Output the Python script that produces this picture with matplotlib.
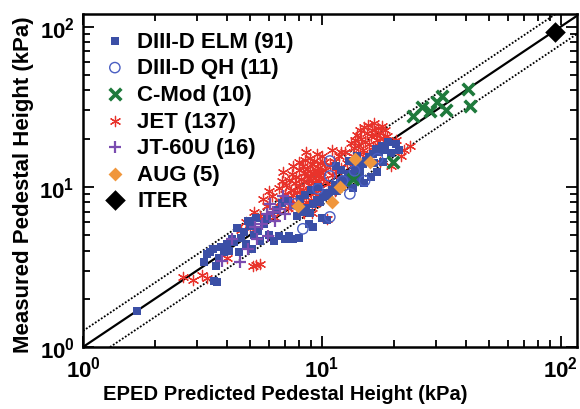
import numpy as np
import matplotlib
matplotlib.use("Agg")
import matplotlib.pyplot as plt

plt.rcParams['font.family'] = ['Liberation Sans', 'DejaVu Sans']
plt.rcParams['font.weight'] = 'bold'
plt.rcParams['mathtext.fontset'] = 'custom'
plt.rcParams['mathtext.rm'] = 'Liberation Sans:bold'
plt.rcParams['mathtext.default'] = 'regular'

# (predicted, measured) in kPa
diiid_elm = np.array([
    (1.68, 1.68),
    (3.3, 3.8), (3.4, 3.9), (3.5, 4.1), (3.55, 2.6), (3.65, 2.55), (3.7, 3.6), (3.8, 4.2),
    (3.9, 3.9), (4.0, 4.4), (4.1, 4.0), (4.2, 4.7), (4.3, 4.5), (4.4, 5.5), (4.5, 3.9),
    (4.6, 4.8), (4.7, 5.2), (4.8, 4.4), (5.0, 5.7), (5.1, 4.1), (5.2, 5.0), (5.4, 5.3),
    (5.5, 4.6), (5.7, 5.9), (5.9, 6.3), (6.0, 5.0), (3.2, 3.4), (3.6, 3.2), (4.9, 6.1),
    (5.3, 6.4),
    (6.3, 4.6), (6.6, 4.9), (7.0, 4.7), (7.3, 4.9), (7.6, 4.7), (8.0, 4.8), (7.9, 6.6),
    (8.3, 7.0), (8.6, 7.4), (8.9, 6.9), (9.2, 7.8), (9.5, 8.3), (9.8, 8.0), (10.1, 8.6),
    (10.4, 9.2), (10.7, 8.8), (11.0, 9.6), (11.3, 10.2), (11.6, 9.4), (11.9, 10.6),
    (12.3, 11.0), (12.6, 10.5), (8.1, 8.4), (8.5, 8.9), (9.0, 9.5), (9.6, 10.0), (6.8, 7.9),
    (7.2, 8.2), (6.4, 7.2), (10.0, 6.4), (10.5, 6.2), (9.2, 5.6), (8.8, 5.9),
    (12.9, 12.0), (13.3, 11.4), (13.7, 12.6), (14.1, 13.2), (14.5, 12.4), (14.9, 13.8),
    (15.3, 14.5), (15.8, 15.3), (16.3, 16.0), (16.8, 17.3), (17.3, 16.4), (17.8, 18.0),
    (18.4, 17.0), (19.0, 19.0), (13.0, 14.5), (14.0, 15.5), (15.0, 10.6), (16.0, 11.5),
    (17.0, 12.4), (13.5, 9.8), (12.0, 12.8), (11.5, 13.5), (18.0, 14.2), (19.5, 16.2),
    (20.5, 18.5), (21.0, 17.0), (16.5, 14.0), (14.5, 11.0),
])

diiid_qh = np.array([
    (10.8, 14.5), (10.8, 11.7), (12.2, 10.9), (10.8, 6.49), (8.33, 5.47), (9.62, 9.72),
    (13.7, 12.6), (15.1, 10.9), (7.71, 7.83), (13.1, 9.04), (17.1, 15.0),
])

cmod = np.array([
    (13.5, 11.2), (19.8, 14.3), (24.0, 27.8), (26.2, 31.6), (28.3, 29.9), (30.3, 34.0),
    (31.8, 37.0), (33.0, 30.3), (40.8, 41.0), (41.6, 32.1),
])

jet = np.array([
    (2.62, 2.74), (2.88, 2.62), (3.30, 2.70), (3.15, 2.80), (5.14, 3.21), (5.50, 3.31),
    (5.3, 3.25), (4.0, 3.6),
    (5.66, 8.4), (5.5, 6.6), (4.8, 6.0), (5.2, 7.0), (5.9, 7.6), (6.2, 8.8), (6.5, 7.2),
    (6.0, 9.4), (5.0, 5.5), (6.3, 6.5), (4.6, 5.4), (6.6, 9.8),
    (7.0, 9.0), (7.1, 10.2), (7.2, 8.4), (7.3, 11.0), (7.4, 9.6), (7.5, 12.0), (7.6, 8.9),
    (7.7, 10.6), (7.8, 11.6), (7.9, 9.3), (8.0, 12.8), (8.0, 10.0), (8.1, 8.2), (8.2, 11.2),
    (8.3, 13.5), (8.3, 9.6), (8.4, 10.8), (8.5, 12.2), (8.5, 14.8), (8.6, 9.0), (8.7, 11.7),
    (8.7, 13.0), (8.8, 10.3), (8.9, 12.5), (8.9, 15.2), (9.0, 9.6), (9.0, 11.0), (9.1, 13.8),
    (9.2, 12.0), (9.2, 10.5), (9.3, 14.4), (9.4, 11.4), (9.4, 9.2), (9.5, 12.8), (9.6, 10.8),
    (9.6, 13.2), (9.7, 11.8), (9.8, 9.9), (9.8, 14.0), (9.9, 12.4), (7.4, 7.6), (7.8, 7.9),
    (8.2, 7.4), (8.6, 8.0), (9.0, 8.3), (9.4, 7.8), (9.8, 8.6), (6.8, 10.8), (6.9, 12.4),
    (7.6, 13.4), (8.0, 14.2), (7.2, 7.4), (8.4, 6.9), (6.7, 8.0), (9.1, 6.9), (8.33, 6.98),
    (7.13, 8.43), (9.5, 16.0), (8.6, 16.5), (10.0, 15.5),
    (10.1, 11.2), (10.3, 12.8), (10.5, 6.32), (10.6, 10.4), (10.8, 13.6), (11.0, 11.8),
    (11.2, 14.6), (11.5, 12.5), (11.8, 15.5), (12.0, 13.2), (12.2, 10.8), (12.5, 16.4),
    (12.8, 14.0), (13.0, 12.2), (11.3, 9.4), (10.4, 9.0), (12.6, 11.4), (11.0, 17.0),
    (10.2, 14.3), (12.0, 16.5),
    (13.6, 17.5), (13.8, 19.5), (14.0, 21.0), (14.2, 18.2), (14.4, 22.5), (14.6, 20.0),
    (14.8, 17.0), (15.0, 23.5), (15.2, 19.0), (15.4, 21.8), (15.6, 24.5), (15.8, 18.5),
    (16.0, 20.8), (16.2, 22.8), (16.4, 17.8), (16.6, 25.0), (16.8, 21.2), (17.0, 19.6),
    (17.2, 23.2), (17.4, 18.0), (17.6, 21.8), (17.8, 24.0), (18.0, 20.2), (18.3, 22.5),
    (18.6, 19.0), (13.5, 15.5), (14.5, 16.0), (15.5, 15.8), (16.5, 16.4), (13.2, 18.8),
    (23.3, 18.1), (18.7, 20.8), (17.5, 14.3), (19.5, 13.5), (22.0, 17.0), (20.5, 19.5),
    (21.5, 15.5),
])

jt60u = np.array([
    (4.54, 3.40), (4.90, 4.10), (5.35, 4.73), (5.94, 4.94), (5.89, 6.78), (6.24, 6.98),
    (6.87, 8.79), (6.67, 7.29), (5.61, 5.87), (6.36, 6.13), (7.35, 7.83), (5.24, 5.62),
    (7.00, 6.78), (6.06, 7.83), (3.82, 3.45), (4.20, 4.73),
])

aug = np.array([(7.94, 7.61), (11.0, 8.06), (11.9, 10.0), (13.7, 15.0), (15.9, 14.3)])

iter_pt = np.array([(95.0, 92.0)])

labels = ['DIII-D ELM (91)', 'DIII-D QH (11)', 'C-Mod (10)', 'JET (137)',
          'JT-60U (16)', 'AUG (5)', 'ITER']
band = [0.77, 1.26]   # dotted lines, measured/predicted ratio

fig = plt.figure(figsize=(5.8, 4.1), dpi=100)
ax = fig.add_axes([0.1431, 0.1512, 0.8517, 0.8122])

line_x = np.array([1.0, 120.0])
ax.plot(line_x, line_x, color='black', lw=1.6, zorder=1)
for f in band:
    ax.plot(line_x, f * line_x, color='black', lw=1.3, ls=(0, (1, 1)), zorder=1)

ax.scatter(diiid_elm[:, 0], diiid_elm[:, 1], marker='s', s=26, color='#3b4fa6',
           linewidths=0, zorder=3, label=labels[0])
ax.scatter(diiid_qh[:, 0], diiid_qh[:, 1], marker='o', s=55, facecolors='none',
           edgecolors='#4a5ec2', linewidths=1.0, zorder=4, label=labels[1])
ax.scatter(cmod[:, 0], cmod[:, 1], marker='x', s=70, color='#1f7a3c',
           linewidths=2.6, zorder=3, label=labels[2])
ax.scatter(jet[:, 0], jet[:, 1], marker=(6, 2, 0), s=55, color='#e8332b',
           linewidths=0.9, zorder=2, label=labels[3])
ax.scatter(jt60u[:, 0], jt60u[:, 1], marker='+', s=80, color='#7a4cb0',
           linewidths=1.6, zorder=3, label=labels[4])
ax.scatter(aug[:, 0], aug[:, 1], marker='D', s=50, color='#f0963c',
           linewidths=0, zorder=4, label=labels[5])
ax.scatter(iter_pt[:, 0], iter_pt[:, 1], marker='D', s=110, color='black',
           linewidths=0, zorder=4, label=labels[6])

ax.set_xscale('log')
ax.set_yscale('log')
ax.set_xlim(1, 117)
ax.set_ylim(1, 120)

ax.tick_params(which='both', direction='in', top=True, right=True, width=1.3)
ax.tick_params(which='major', length=8, labelsize=16)
ax.tick_params(axis='x', which='major', pad=6)
ax.tick_params(axis='y', which='major', pad=6)
ax.tick_params(which='minor', length=5)
ax.xaxis.set_minor_formatter(plt.NullFormatter())
ax.yaxis.set_minor_formatter(plt.NullFormatter())
for sp in ax.spines.values():
    sp.set_linewidth(1.8)

ax.set_xlabel('EPED Predicted Pedestal Height (kPa)', fontsize=14.5, fontweight='bold')
ax.xaxis.set_label_coords(0.41, -0.11)
ax.set_ylabel('Measured Pedestal Height (kPa)', fontsize=16, fontweight='bold')
ax.yaxis.set_label_coords(-0.10, 0.49)

leg = ax.legend(loc='upper left', bbox_to_anchor=(0.024, 0.976), frameon=False,
                handletextpad=0.5, labelspacing=0.25, borderaxespad=0.0,
                handlelength=1.0, prop={'weight': 'bold', 'size': 16})

fig.savefig('out.png', dpi=100)
